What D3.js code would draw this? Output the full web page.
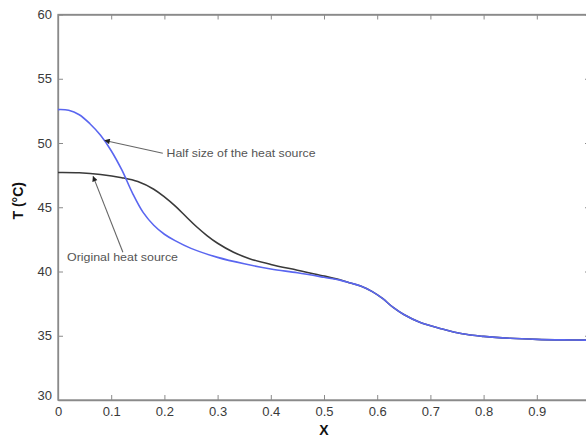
<!DOCTYPE html>
<html><head><meta charset="utf-8">
<script src="https://cdn.jsdelivr.net/npm/d3@7"></script>
<style>body{margin:0;background:#fff}svg{display:block}</style>
</head><body>
<svg id="c" width="586" height="437"></svg>
<script>
const xTicks = [0,0.1,0.2,0.3,0.4,0.5,0.6,0.7,0.8,0.9,1];
const xTickLabels = ["0","0.1","0.2","0.3","0.4","0.5","0.6","0.7","0.8","0.9",""];
const yTicks = [30,35,40,45,50,55,60];
const halfX = [0,0.02,0.04,0.06,0.08,0.1,0.12,0.14,0.16,0.18,0.2,0.22,0.25,0.3,0.35,0.4,0.45,0.5,0.53,0.55,0.57,0.59,0.61,0.63,0.65,0.68,0.72,0.76,0.8,0.85,0.9,0.95,1];
const halfT = [52.6,52.55,52.2,51.5,50.6,49.4,47.9,46.1,44.6,43.6,42.9,42.4,41.8,41.1,40.6,40.2,39.9,39.55,39.33,39.1,38.85,38.45,37.9,37.2,36.65,36.05,35.55,35.15,34.95,34.8,34.72,34.68,34.66];
const origX = [0,0.04,0.08,0.12,0.15,0.18,0.2,0.22,0.24,0.26,0.28,0.3,0.33,0.36,0.4,0.45,0.5,0.53,0.55,0.57,0.59,0.61,0.63,0.65,0.68,0.72,0.76,0.8,0.85,0.9,0.95,1];
const origT = [47.7,47.68,47.55,47.3,47.0,46.4,45.8,45.1,44.3,43.5,42.8,42.2,41.5,41.0,40.55,40.1,39.65,39.35,39.1,38.85,38.45,37.9,37.2,36.65,36.05,35.55,35.15,34.95,34.8,34.72,34.68,34.66];

const svg = d3.select("#c");
const x = d3.scaleLinear().domain([0,1]).range([58,590]);
const y = d3.scaleLinear().domain([30,60]).range([400,14.5]);
const axisCol = "#8a8a8a", txtCol = "#3a3a3a";
const font = "Arial, 'Liberation Sans', sans-serif";

svg.append("rect").attr("x",x(0)).attr("y",y(60)).attr("width",x(1)-x(0)).attr("height",y(30)-y(60))
  .attr("fill","none").attr("stroke",axisCol).attr("stroke-width",1.3);

const gx = svg.append("g").attr("transform",`translate(0,${y(30)})`)
  .call(d3.axisBottom(x).tickValues(xTicks).tickFormat((d,i)=>xTickLabels[i]).tickSizeInner(-5).tickSizeOuter(0).tickPadding(7));
const gxt = svg.append("g").attr("transform",`translate(0,${y(60)})`)
  .call(d3.axisTop(x).tickValues(xTicks).tickFormat("").tickSizeInner(-5).tickSizeOuter(0));
const gy = svg.append("g").attr("transform",`translate(${x(0)},0)`)
  .call(d3.axisLeft(y).tickValues(yTicks).tickSizeInner(-5).tickSizeOuter(0).tickPadding(6));
const gyr = svg.append("g").attr("transform",`translate(${x(1)},0)`)
  .call(d3.axisRight(y).tickValues(yTicks).tickFormat("").tickSizeInner(-5).tickSizeOuter(0));
[gx,gxt,gy,gyr].forEach(g=>{
  g.select(".domain").attr("stroke",axisCol).attr("stroke-width",1.3);
  g.selectAll(".tick line").attr("stroke",axisCol);
  g.selectAll("text").attr("fill",txtCol).style("font-family",font).style("font-size","13px");
});
gx.selectAll(".tick").filter(d=>d===1).remove();
gy.selectAll(".tick text").attr("dy","0.32em");
gy.selectAll(".tick").filter(d=>d===30).select("text").attr("dy","-0.05em");

const line = d3.line().x(d=>x(d[0])).y(d=>y(d[1])).curve(d3.curveCatmullRom.alpha(0.5));
svg.append("path").datum(origX.map((v,i)=>[v,origT[i]])).attr("d",line)
  .attr("fill","none").attr("stroke","#3a3a3a").attr("stroke-width",1.6);
svg.append("path").datum(halfX.map((v,i)=>[v,halfT[i]])).attr("d",line)
  .attr("fill","none").attr("stroke","#5a66f0").attr("stroke-width",1.6);

const defs = svg.append("defs");
defs.append("marker").attr("id","ah").attr("viewBox","0 0 10 10").attr("refX",9).attr("refY",5)
  .attr("markerWidth",6).attr("markerHeight",5).attr("orient","auto-start-reverse")
  .append("path").attr("d","M0,0 L10,5 L0,10 z").attr("fill","#222");
svg.append("line").attr("x1",x(0.197)).attr("y1",y(49.2)).attr("x2",x(0.088)).attr("y2",y(50.2))
  .attr("stroke","#666").attr("stroke-width",1.1).attr("marker-end","url(#ah)");
svg.append("text").attr("x",x(0.204)).attr("y",y(49.2)).attr("dy","0.35em")
  .attr("fill","#555").style("font-family",font).style("font-size","11px")
  .attr("textLength",149).attr("lengthAdjust","spacingAndGlyphs").text("Half size of the heat source");
svg.append("line").attr("x1",x(0.122)).attr("y1",y(41.5)).attr("x2",x(0.066)).attr("y2",y(47.4))
  .attr("stroke","#666").attr("stroke-width",1.1).attr("marker-end","url(#ah)");
svg.append("text").attr("x",x(0.017)).attr("y",y(41.1)).attr("dy","0.35em")
  .attr("fill","#555").style("font-family",font).style("font-size","11px")
  .attr("textLength",111).attr("lengthAdjust","spacingAndGlyphs").text("Original heat source");

svg.append("text").attr("x",x(0.5)).attr("y",435).attr("text-anchor","middle")
  .attr("fill","#111").style("font-family",font).style("font-size","14px").style("font-weight","bold").text("X");
svg.append("text").attr("transform",`translate(23,${y(45.5)}) rotate(-90)`).attr("text-anchor","middle")
  .attr("fill","#111").style("font-family",font).style("font-size","14px").style("font-weight","bold").text("T (°C)");
</script>
</body></html>
